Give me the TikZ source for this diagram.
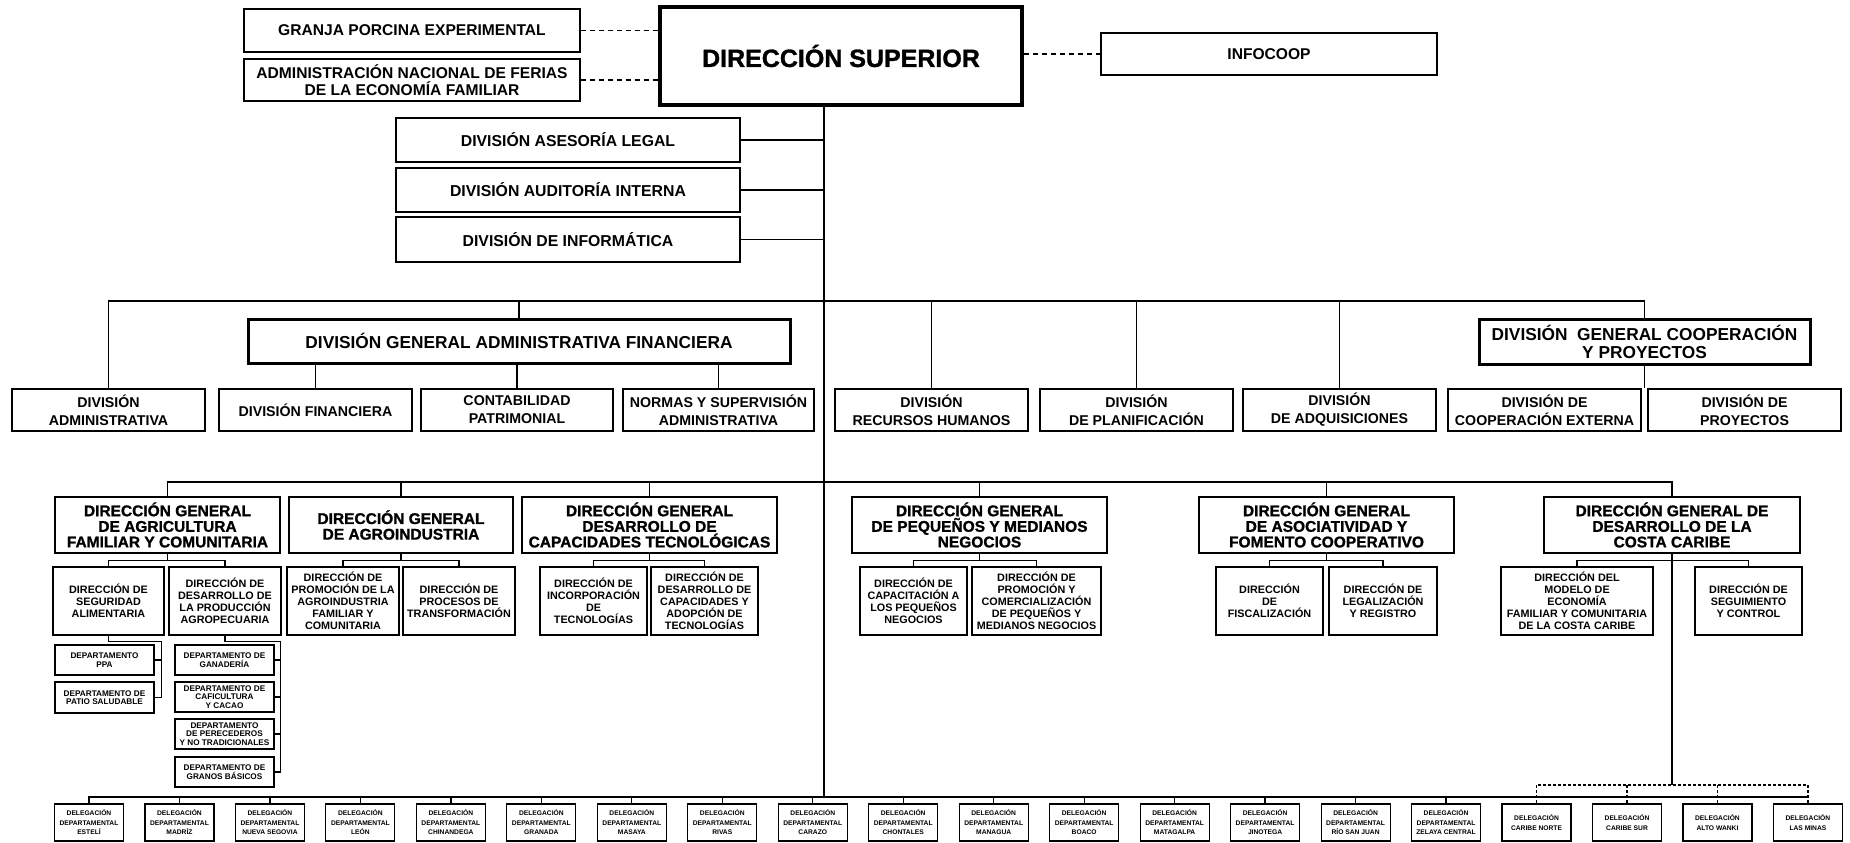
\documentclass[tikz,border=0pt]{standalone}
\usepackage{fontspec}
\setmainfont{Liberation Sans}
\newfontfamily\heavyfont{Liberation Sans}[FakeBold=1.2]
\usetikzlibrary{positioning,calc}

\newcommand{\fsz}[2]{\fontsize{#1}{#2}\selectfont\bfseries}

\tikzset{
  org/.style={draw, line width=1.3pt, align=center, inner sep=0pt},
  topbox/.style={org, minimum width=336pt, minimum height=43pt, font=\fsz{15.6}{16.8}},
  chief/.style={org, line width=4.5pt, minimum width=362pt, minimum height=98pt, font=\heavyfont\fsz{25}{27}},
  staffbox/.style={org, minimum width=344pt, minimum height=44pt, font=\fsz{15.8}{17}},
  gendiv/.style={org, line width=3pt, minimum height=44pt, font=\fsz{17.3}{18}},
  divbox/.style={org, minimum width=193pt, minimum height=42pt, font=\fsz{14.2}{18}},
  dirgen/.style={org, line width=2.6pt, minimum height=56pt, font=\heavyfont\fsz{15.5}{15.6}},
  dirbox/.style={org, minimum height=68pt, font=\fsz{10.8}{11.9}},
  deptbox/.style={org, line width=1.1pt, minimum width=99pt, minimum height=30pt, font=\fsz{8.2}{8.6}},
  delbox/.style={org, line width=1.1pt, minimum width=69pt, minimum height=37pt, font=\fsz{6.7}{9.5}},
  link/.style={line width=1.3pt},
  dashlink/.style={line width=1.3pt, dash pattern=on 5pt off 4pt},
  dotlink/.style={line width=1.1pt, dash pattern=on 3pt off 2pt}
}

\begin{document}
\begin{tikzpicture}[x=1pt, y=-1pt]
  \useasboundingbox (0,0) rectangle (1850,843);

  % Top level
  \node[chief] (dsup) at (841,56) {DIRECCIÓN SUPERIOR};
  \node[topbox] (granja) at (412,30.5) {GRANJA PORCINA EXPERIMENTAL};
  \node[topbox, minimum height=42pt] (ferias) at (412,80) {ADMINISTRACIÓN NACIONAL DE FERIAS\\DE LA ECONOMÍA FAMILIAR};
  \node[topbox, minimum height=42pt] (infocoop) at (1269,54) {INFOCOOP};

  \draw[dashlink] (granja.east) -- (granja.east -| dsup.west);
  \draw[dashlink] (ferias.east) -- (ferias.east -| dsup.west);
  \draw[dashlink] (infocoop.west -| dsup.east) -- (infocoop.west);

  % Main line
  \coordinate (spbot) at (824,797);
  \draw[link] (dsup.south -| spbot) -- (spbot);

  % Staff divisions
  \node[staffbox] (legal) at (568,140) {DIVISIÓN ASESORÍA LEGAL};
  \node[staffbox] (audit) at (568,190) {DIVISIÓN AUDITORÍA INTERNA};
  \node[staffbox, minimum height=45pt] (infor) at (568,239.5) {DIVISIÓN DE INFORMÁTICA};
  \foreach \n in {legal,audit,infor}
    \draw[link] (\n.east) -- (\n.east -| spbot);

  % Divisions
  \coordinate (bartwo) at (0,301);
  \node[gendiv, minimum width=542pt] (dgaf) at (519,341) {DIVISIÓN GENERAL ADMINISTRATIVA FINANCIERA};
  \node[gendiv, minimum width=331pt, minimum height=45pt] (dgcp) at (1644.5,341.5) {DIVISIÓN~~GENERAL COOPERACIÓN\\Y PROYECTOS};
  \node[divbox] (dadm) at (108.5,410) {DIVISIÓN\\ADMINISTRATIVA};
  \node[divbox] (dfin) at (315.5,410) {DIVISIÓN FINANCIERA};
  \node[divbox, minimum width=192pt] (cont) at (517,410) {CONTABILIDAD\\PATRIMONIAL};
  \node[divbox, minimum width=191pt] (norm) at (718.5,410) {NORMAS Y SUPERVISIÓN\\ADMINISTRATIVA};
  \node[divbox] (rrhh) at (931.5,410) {DIVISIÓN\\RECURSOS HUMANOS};
  \node[divbox] (plan) at (1136.5,410) {DIVISIÓN\\DE PLANIFICACIÓN};
  \node[divbox] (adq) at (1339.5,410) {DIVISIÓN\\DE ADQUISICIONES};
  \node[divbox] (coop) at (1544.5,410) {DIVISIÓN DE\\COOPERACIÓN EXTERNA};
  \node[divbox] (proy) at (1744.5,410) {DIVISIÓN DE\\PROYECTOS};

  \draw[link] (dadm.north) |- (bartwo -| dgcp.north) -- (dgcp.north);
  \foreach \n in {dgaf,rrhh,plan,adq}
    \draw[link] (\n.north) -- (\n.north |- bartwo);
  \foreach \n in {dfin,cont,norm}
    \draw[link] (dgaf.south -| \n.north) -- (\n.north);
  \draw[link] (dgcp.south) -- (dgcp.south |- coop.north);

  % Direcciones generales
  \coordinate (barthree) at (0,482);
  \node[dirgen, minimum width=225pt] (dg1) at (167.5,525) {DIRECCIÓN GENERAL\\DE AGRICULTURA\\FAMILIAR Y COMUNITARIA};
  \node[dirgen, minimum width=224pt] (dg2) at (401,525) {DIRECCIÓN GENERAL\\DE AGROINDUSTRIA};
  \node[dirgen, minimum width=255pt] (dg3) at (649.5,525) {DIRECCIÓN GENERAL\\DESARROLLO DE\\CAPACIDADES TECNOLÓGICAS};
  \node[dirgen, minimum width=255pt] (dg4) at (979.5,525) {DIRECCIÓN GENERAL\\DE PEQUEÑOS Y MEDIANOS\\NEGOCIOS};
  \node[dirgen, minimum width=255pt] (dg5) at (1326.5,525) {DIRECCIÓN GENERAL\\DE ASOCIATIVIDAD Y\\FOMENTO COOPERATIVO};
  \node[dirgen, minimum width=256pt] (dg6) at (1672,525) {DIRECCIÓN GENERAL DE\\DESARROLLO DE LA\\COSTA CARIBE};

  \draw[link] (dg1.north) |- (barthree -| dg6.north) -- (dg6.north);
  \foreach \n in {dg2,dg3,dg4,dg5}
    \draw[link] (\n.north) -- (\n.north |- barthree);

  % Direcciones
  \node[dirbox, minimum width=111pt] (segal) at (108.5,601) {DIRECCIÓN DE\\SEGURIDAD\\ALIMENTARIA};
  \node[dirbox, minimum width=112pt] (despro) at (225,601) {DIRECCIÓN DE\\DESARROLLO DE\\LA PRODUCCIÓN\\AGROPECUARIA};
  \node[dirbox, minimum width=112pt] (promag) at (343,601) {DIRECCIÓN DE\\PROMOCIÓN DE LA\\AGROINDUSTRIA\\FAMILIAR Y\\COMUNITARIA};
  \node[dirbox, minimum width=112pt] (procs) at (459,601) {DIRECCIÓN DE\\PROCESOS DE\\TRANSFORMACIÓN};
  \node[dirbox, minimum width=107pt] (incorp) at (593.5,601) {DIRECCIÓN DE\\INCORPORACIÓN\\DE\\TECNOLOGÍAS};
  \node[dirbox, minimum width=107pt] (descap) at (704.5,601) {DIRECCIÓN DE\\DESARROLLO DE\\CAPACIDADES Y\\ADOPCIÓN DE\\TECNOLOGÍAS};
  \node[dirbox, minimum width=107pt] (capac) at (913.5,601) {DIRECCIÓN DE\\CAPACITACIÓN A\\LOS PEQUEÑOS\\NEGOCIOS};
  \node[dirbox, minimum width=129pt] (promco) at (1036.5,601) {DIRECCIÓN DE\\PROMOCIÓN Y\\COMERCIALIZACIÓN\\DE PEQUEÑOS Y\\MEDIANOS NEGOCIOS};
  \node[dirbox, minimum width=107pt] (fisc) at (1269.5,601) {DIRECCIÓN\\DE\\FISCALIZACIÓN};
  \node[dirbox, minimum width=108pt] (legreg) at (1383,601) {DIRECCIÓN DE\\LEGALIZACIÓN\\Y REGISTRO};
  \node[dirbox, minimum width=152pt] (modelo) at (1577,601) {DIRECCIÓN DEL\\MODELO DE\\ECONOMÍA\\FAMILIAR Y COMUNITARIA\\DE LA COSTA CARIBE};
  \node[dirbox, minimum width=107pt] (segui) at (1748.5,601) {DIRECCIÓN DE\\SEGUIMIENTO\\Y CONTROL};

  \foreach \g/\a/\b in {dg1/segal/despro, dg2/promag/procs, dg3/incorp/descap,
                        dg4/capac/promco, dg5/fisc/legreg, dg6/modelo/segui} {
    \draw[link] (\a.north) |- ($(\g.south)+(0,6)$) -| (\b.north);
    \draw[link] (\g.south) -- ++(0,6);
  }

  % Departamentos
  \node[deptbox] (ppa) at (104.5,660) {DEPARTAMENTO\\PPA};
  \node[deptbox, minimum height=31pt] (patio) at (104.5,697.5) {DEPARTAMENTO DE\\PATIO SALUDABLE};
  \node[deptbox] (ganad) at (224.5,660) {DEPARTAMENTO DE\\GANADERÍA};
  \node[deptbox] (cafic) at (224.5,697) {DEPARTAMENTO DE\\CAFICULTURA\\Y CACAO};
  \node[deptbox] (perec) at (224.5,734) {DEPARTAMENTO\\DE PERECEDEROS\\Y NO TRADICIONALES};
  \node[deptbox] (granos) at (224.5,772) {DEPARTAMENTO DE\\GRANOS BÁSICOS};

  \draw[link] (segal.south) -- ++(0,6) -| ($(patio.east)+(7,0)$) -- (patio.east);
  \draw[link] (ppa.east) -- ++(7,0);
  \draw[link] (despro.south) -- ++(0,6) -| ($(granos.east)+(6,0)$) -- (granos.east);
  \foreach \n in {ganad,cafic,perec}
    \draw[link] (\n.east) -- ++(6,0);

  % Delegaciones
  \coordinate (barfour) at (0,797);
  \coordinate (barfive) at (0,785);
  \foreach \i/\dep in {1/ESTELÍ, 2/MADRÍZ, 3/NUEVA SEGOVIA, 4/LEÓN, 5/CHINANDEGA,
                       6/GRANADA, 7/MASAYA, 8/RIVAS, 9/CARAZO, 10/CHONTALES,
                       11/MANAGUA, 12/BOACO, 13/MATAGALPA, 14/JINOTEGA,
                       15/RÍO SAN JUAN, 16/ZELAYA CENTRAL}
    \node[delbox] (del\i) at ({89+90.47*(\i-1)},822.5) {DELEGACIÓN\\DEPARTAMENTAL\\\dep};
  \foreach \i/\dep in {17/CARIBE NORTE, 18/CARIBE SUR, 19/ALTO WANKI, 20/LAS MINAS}
    \node[delbox] (del\i) at ({89+90.47*(\i-1)},822.5) {DELEGACIÓN\\\dep};

  \draw[link] (del1.north) |- (barfour -| del20.north);
  \foreach \i in {2,...,16}
    \draw[link] (del\i.north) -- (del\i.north |- barfour);
  \draw[link] (dg6.south) -- (dg6.south |- barfive);
  \draw[dotlink] (del17.north) |- (barfive -| del20.north) -- (del20.north);
  \foreach \i in {18,19}
    \draw[dotlink] (del\i.north) -- (del\i.north |- barfive);
\end{tikzpicture}
\end{document}
